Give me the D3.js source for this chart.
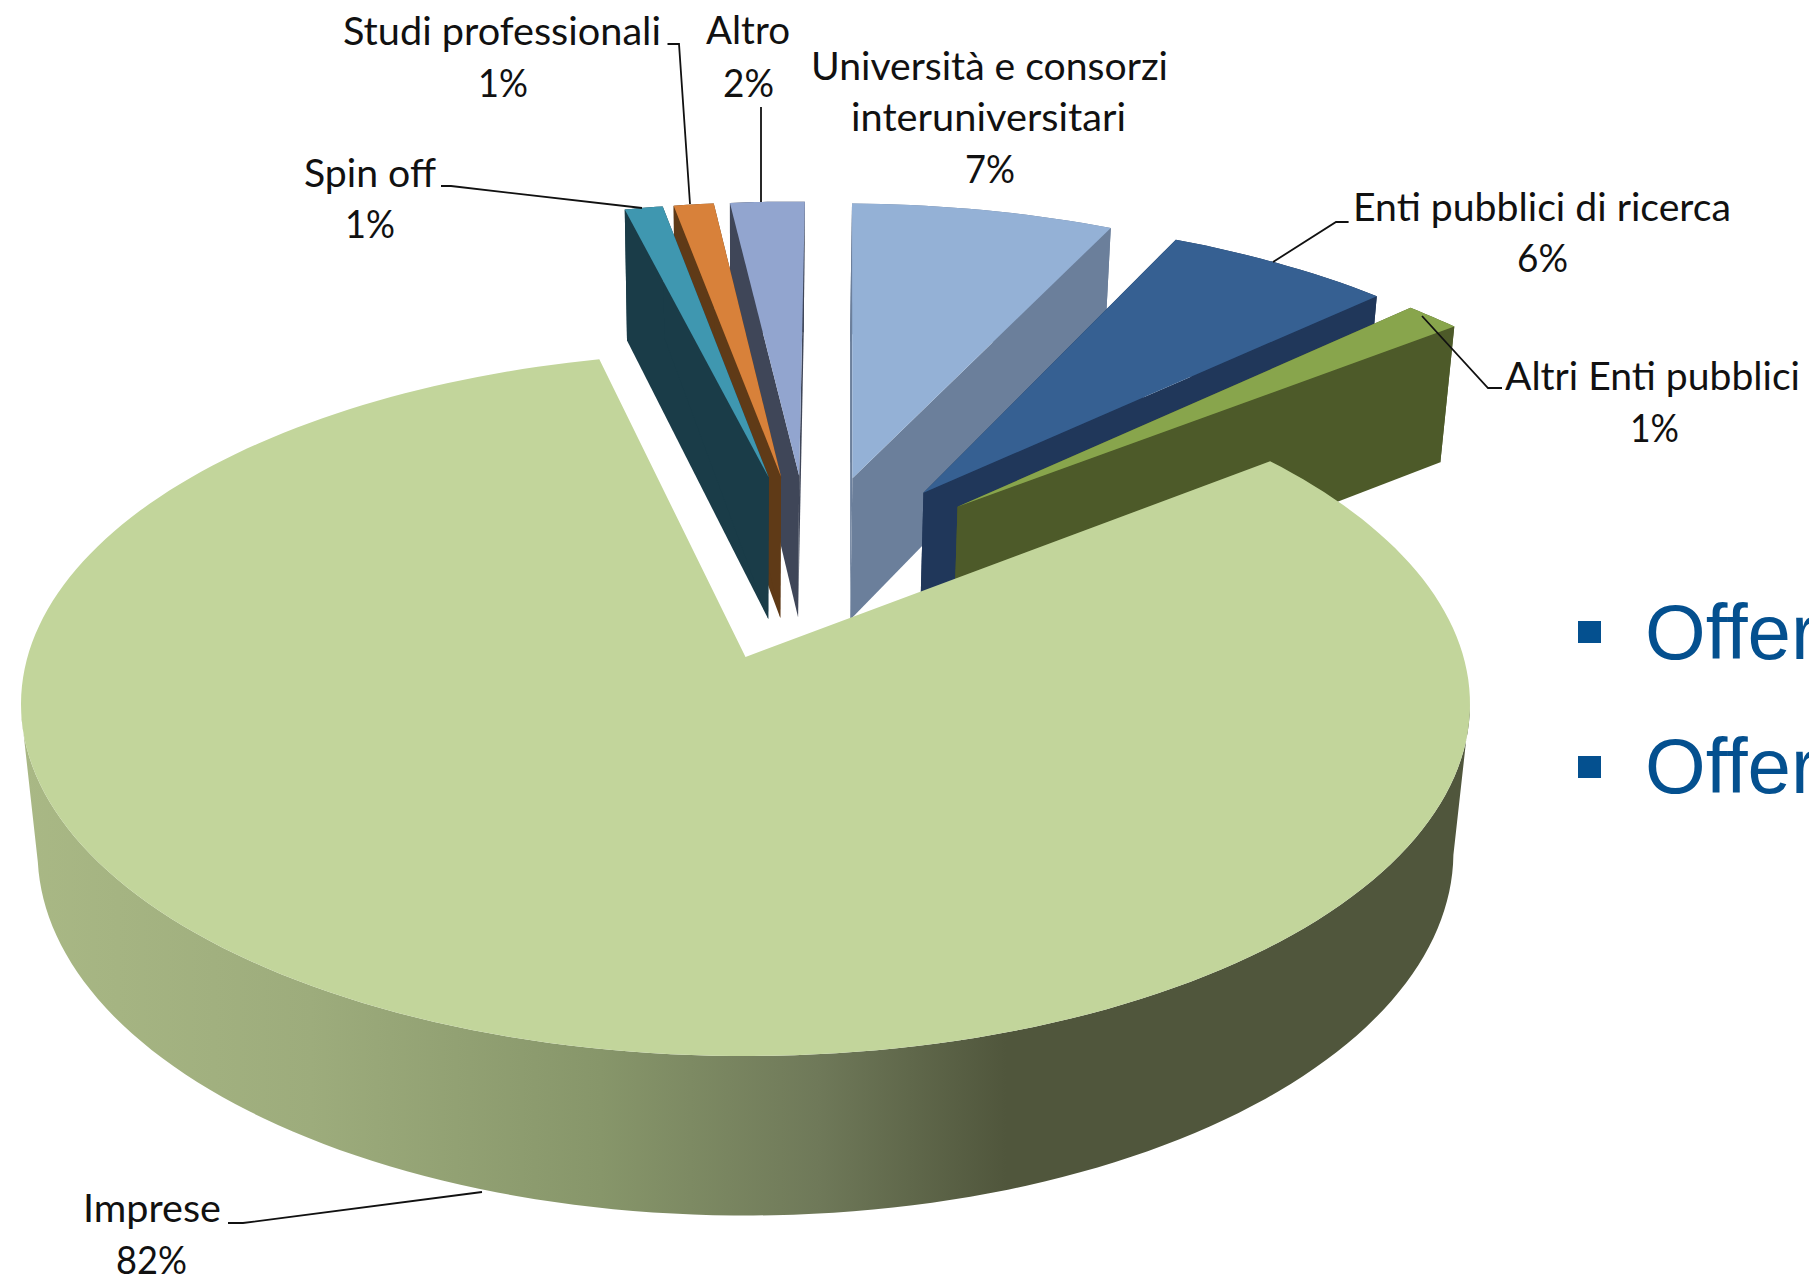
<!DOCTYPE html>
<html>
<head>
<meta charset="utf-8">
<script src="https://cdn.jsdelivr.net/npm/d3@7"></script>
<style>
  html, body { margin: 0; padding: 0; background: #fff; overflow: hidden; }
  svg { display: block; }
</style>
</head>
<body>
<div class="container"></div>
<script>
const categories = ["Università e consorzi interuniversitari", "Enti pubblici di ricerca", "Altri Enti pubblici", "Imprese", "Spin off", "Studi professionali", "Altro"];
const shares = [6.85, 5.9, 1.45, 81.8, 1.0, 1.05, 1.95];
const topColors = ["#94b1d6", "#366092", "#88a54c", "#c2d59b", "#3f97b0", "#d8813a", "#92a5cf"];
const wallColors = ["#6b7f9b", "#20375a", "#4d5a29", "url(#wallGrad)", "#1a3c48", "#5f3a17", "#3f4658"];
const drawOrder = [6, 5, 4, 0, 1, 2, 3];
const bigIndex = categories.indexOf("Imprese");

const w = 1809;
const h = 1278;

// projection of the pie plane, fitted on the big slice
const cx = 745.5, cy = 704, rx = 724.5, ry = 352;
const c = 0.1335, g = 0.023, depth = 150;
const s = Math.sqrt(1 - c * c);
const explode = 0.29;
const smallRadius = 1.035;
const smallShift = -0.004;

const project = function (u, v, z) {
  const k = 1 - c * v + g * z;
  return [cx + rx * s * u / k, cy + (ry * (v - c) + depth * z) / k];
};

const rad = d => d * Math.PI / 180;

const svg = d3.select(".container").append("svg")
  .attr("width", w)
  .attr("height", h);

const grad = svg.append("defs").append("linearGradient")
  .attr("id", "wallGrad")
  .attr("gradientUnits", "userSpaceOnUse")
  .attr("x1", 21).attr("x2", 1470).attr("y1", 0).attr("y2", 0);
[[0, "#a9b885"], [0.2, "#9dac7c"], [0.4, "#87966a"], [0.55, "#6f7959"], [0.68, "#50563c"], [1, "#50563c"]]
  .forEach(d => grad.append("stop").attr("offset", d[0]).attr("stop-color", d[1]));

const arcs = d3.pie().sort(null).startAngle(rad(1.1)).endAngle(rad(361.1))(shares);

// the big slice sits at the origin of the plane, the others are moved from the real centre
const big = arcs[bigIndex];
const bigMid = (big.startAngle + big.endAngle) / 2;
const px = -explode * Math.sin(bigMid);
const py = explode * Math.cos(bigMid);

const line = d3.line();

const geometry = arcs.map(function (a, i) {
  const mid = (a.startAngle + a.endAngle) / 2;
  const isBig = i === bigIndex;
  const ox = px + explode * Math.sin(mid) + (isBig ? 0 : smallShift);
  const oy = py - explode * Math.cos(mid);
  const r = isBig ? 1 : smallRadius;
  const n = Math.max(6, Math.ceil((a.endAngle - a.startAngle) * 40));
  const rim = d3.range(n + 1).map(function (k) {
    const t = a.startAngle + (a.endAngle - a.startAngle) * k / n;
    return [ox + r * Math.sin(t), oy - r * Math.cos(t)];
  });
  return { ox, oy, rim };
});

const at = z => p => project(p[0], p[1], z);

drawOrder.forEach(function (i) {
  const g0 = geometry[i];
  const slice = svg.append("g").attr("class", "slice");
  const first = g0.rim[0], last = g0.rim[g0.rim.length - 1], apex = [g0.ox, g0.oy];

  // outer wall, on the big slice only the part facing the viewer
  const wallRim = i === bigIndex ? g0.rim.filter(p => p[1] >= c) : g0.rim;
  slice.append("path")
    .attr("d", line(wallRim.map(at(0)).concat(wallRim.slice().reverse().map(at(1)))) + "Z")
    .attr("fill", wallColors[i]);

  // the two cut faces
  if (i !== bigIndex) {
    [first, last].forEach(function (e) {
      slice.append("path")
        .attr("d", line([at(0)(apex), at(0)(e), at(1)(e), at(1)(apex)]) + "Z")
        .attr("fill", wallColors[i]);
    });
  }

  // top
  slice.append("path")
    .attr("d", line([at(0)(apex)].concat(g0.rim.map(at(0)))) + "Z")
    .attr("fill", topColors[i]);
});

// labels: left edge, baseline and measured width of each line
const labelLayout = [
  [["Università e consorzi", 811, 80, 357], ["interuniversitari", 851, 131, 275], [null, 965, 183, 50]],
  [["Enti pubblici di ricerca", 1353, 221, 378], [null, 1517, 272, 51]],
  [["Altri Enti pubblici", 1505, 390, 295], [null, 1630, 442, 49]],
  [["Imprese", 83, 1222, 138], [null, 116, 1274, 71]],
  [["Spin off", 304, 187, 132], [null, 345, 238, 50]],
  [["Studi professionali", 343, 45, 318], [null, 478, 97, 50]],
  [["Altro", 706, 44, 84], [null, 723, 97, 51]]
];

const leaders = [
  [[441, 186], [451, 186], [642, 208]],
  [[667.5, 44], [679, 44], [690, 204]],
  [[761, 107], [761, 202]],
  [[1348.6, 222], [1336, 222], [1273, 262]],
  [[1502, 388], [1488, 388], [1422, 316]],
  [[228, 1223], [243, 1223], [482, 1192]]
];

svg.selectAll("path.leader")
  .data(leaders)
  .enter()
  .append("path")
  .attr("class", "leader")
  .attr("d", d => line(d))
  .attr("fill", "none")
  .attr("stroke", "#111")
  .attr("stroke-width", 1.8);

labelLayout.forEach(function (rows, i) {
  rows.forEach(function (r) {
    svg.append("text")
      .attr("x", r[1])
      .attr("y", r[2])
      .attr("textLength", r[3])
      .attr("lengthAdjust", "spacingAndGlyphs")
      .attr("font-family", "Lato, 'Open Sans', sans-serif")
      .attr("font-size", 38)
      .attr("fill", "#111")
      .text(r[0] === null ? Math.round(shares[i]) + "%" : r[0]);
  });
});

// slide text behind the chart, cut by the page edge
[[621, 659], [756, 793]].forEach(function (d) {
  svg.append("rect")
    .attr("x", 1578).attr("y", d[0])
    .attr("width", 23).attr("height", 22)
    .attr("fill", "#04508f");
  svg.append("text")
    .attr("x", 1645).attr("y", d[1])
    .attr("font-family", "'Liberation Sans', Arial, sans-serif")
    .attr("font-size", 78)
    .attr("fill", "#04508f")
    .style("font-variant-ligatures", "none")
    .text("Offer");
});
</script>
</body>
</html>
